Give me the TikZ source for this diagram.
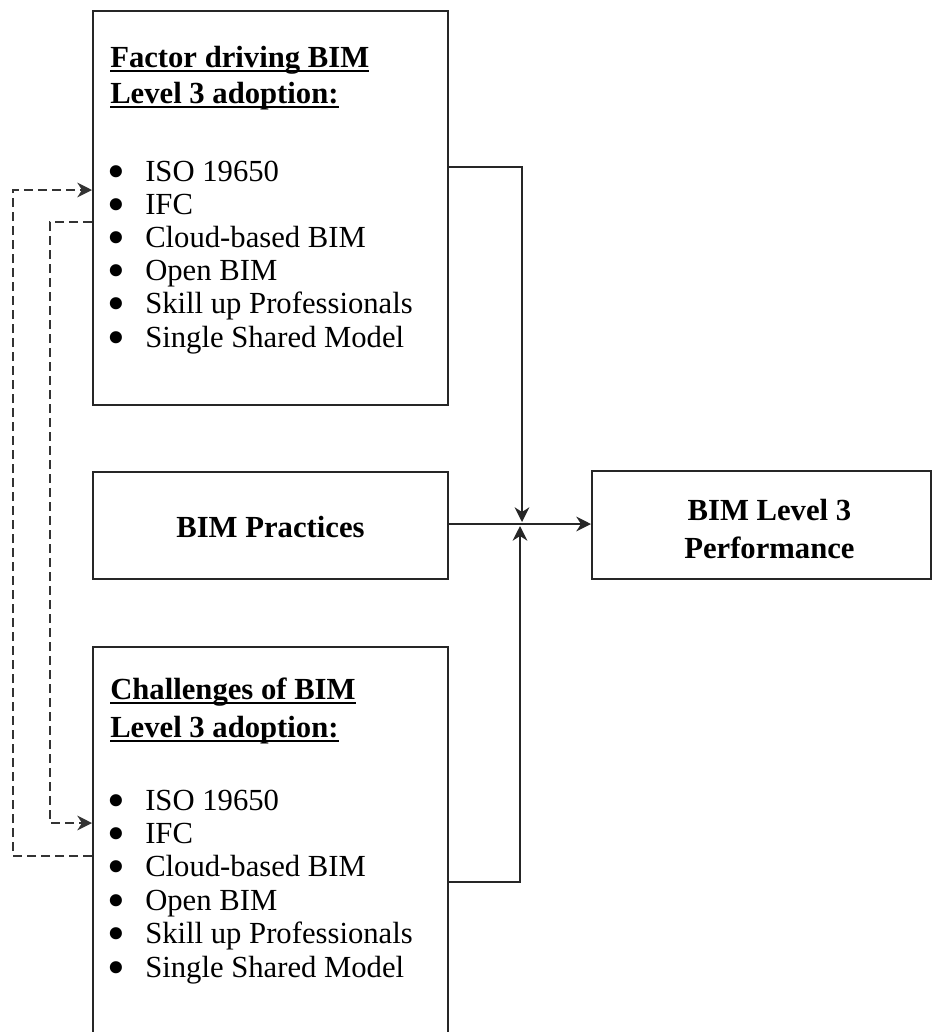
\documentclass[tikz,border=0pt]{standalone}
\usepackage{fontspec}
\setmainfont{Liberation Serif}
\usetikzlibrary{arrows.meta}
\newcommand\ulbold[1]{\setbox0\hbox{#1}\rlap{\rule[-4pt]{\wd0}{2pt}}\box0}
\begin{document}
\begin{tikzpicture}[x=0.75pt,y=-0.75pt,
  box/.style={draw=black!85,line width=1.4pt,inner sep=0pt,anchor=north west},
  conn/.style={draw=black!85,line width=1.4pt},
  dconn/.style={draw=black!80,line width=1.4pt,dash pattern=on 6.5pt off 4pt},
  tip/.style={-{Stealth[length=11pt,width=11pt,inset=3.5pt]}},
  head/.style={anchor=base west,inner sep=0pt,font=\fontsize{23}{27}\selectfont\bfseries},
  item/.style={anchor=base west,inner sep=0pt,font=\fontsize{23}{27}\selectfont},
  bul/.style={anchor=base,inner sep=0pt,text height=5pt,text depth=0pt,font=\fontsize{38}{38}\selectfont},
  ctext/.style={align=center,inner sep=0pt,font=\fontsize{23}{29}\selectfont\bfseries}]
\useasboundingbox (0,0) rectangle (933,1032);
% boxes
\node[box,minimum width=355*0.75pt,minimum height=394*0.75pt] (top) at (92,10) {};
\node[box,minimum width=355*0.75pt,minimum height=107*0.75pt] (mid) at (92,471) {};
\node[box,minimum width=339*0.75pt,minimum height=108*0.75pt] (perf) at (591,470) {};
\node[box,minimum width=355*0.75pt,minimum height=400*0.75pt] (bot) at (92,646) {};
% top box text
\node[head] (th1) at (110,67) {\ulbold{Factor driving BIM}};
\node[head] (th2) at (110,103) {\ulbold{Level 3 adoption:}};
\foreach \t/\y [count=\i] in {ISO 19650/181, IFC/214.2, Cloud-based BIM/247.4, Open BIM/280.6, Skill up Professionals/313.8, Single Shared Model/347}{
  \node[bul] (tb\i) at (116,\y+7) {\textbullet};
  \node[item] (ti\i) at (145,\y) {\t};
}
% bottom box text
\node[head] (bh1) at (110,699) {\ulbold{Challenges of BIM}};
\node[head] (bh2) at (110,737) {\ulbold{Level 3 adoption:}};
\foreach \t/\y [count=\i] in {ISO 19650/810, IFC/843.4, Cloud-based BIM/876.8, Open BIM/910.2, Skill up Professionals/943.6, Single Shared Model/977}{
  \node[bul] (bb\i) at (116,\y+7) {\textbullet};
  \node[item] (bi\i) at (145,\y) {\t};
}
% middle texts
\node[ctext] (midt) at ([yshift=-1.5pt]mid.center) {BIM Practices};
\node[ctext] (perft) at ([xshift=6pt,yshift=-3pt]perf.center) {BIM Level 3\\Performance};
% junction
\coordinate (j) at (522,524);
\coordinate (jt) at (522,522);
\coordinate (jb) at (520,526);
\coordinate (tc) at (522,167);
\coordinate (bc) at (520,882);
% solid connectors
\draw[conn,tip] (top.east |- tc) -- (tc) -- (jt);
\draw[conn,tip] (bot.east |- bc) -- (bc) -- (jb);
\draw[conn,tip] (mid.east |- j) -- (perf.west |- j);
% dashed connectors
\coordinate (o1) at (13,190);
\coordinate (o2) at (13,856);
\coordinate (i1) at (50,222);
\coordinate (i2) at (50,823);
\draw[dconn,tip] (bot.west |- o2) -- (o2) -- (o1) -- (top.west |- o1);
\draw[dconn,tip] (top.west |- i1) -- (i1) -- (i2) -- (bot.west |- i2);
\end{tikzpicture}
\end{document}
